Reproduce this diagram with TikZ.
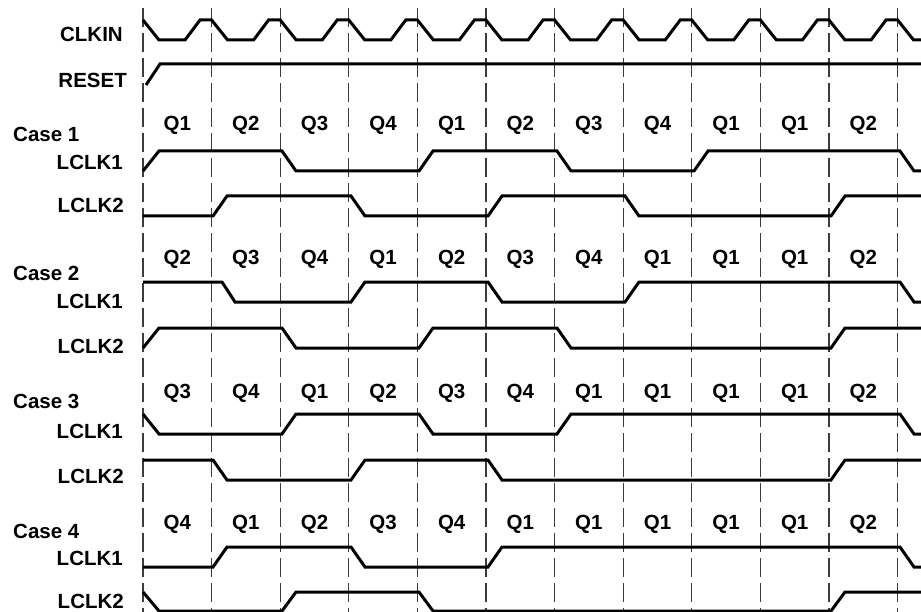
\documentclass[tikz,border=0pt]{standalone}
\usepackage{fontspec}
\setmainfont{Liberation Sans}
\definecolor{slotgray}{HTML}{3C3C3C}

\begin{document}
\begin{tikzpicture}[x=1bp,y=-1bp,
  wave/.style={line width=3bp},
  slot/.style={slotgray,line width=1.1bp,dash pattern=on 19bp off 6bp},
  lbl/.style={font=\fontsize{20.5bp}{24bp}\selectfont\bfseries,inner sep=0pt}]
  \useasboundingbox (0,0) rectangle (921,612);

  % slot boundaries
  \foreach \k in {0,...,11}
    \draw[slot] ({143+68.6*\k},8) -- ({143+68.6*\k},612);

  % clock and reset
  \node[lbl,anchor=base east] (clkin) at (123,42) {CLKIN};
  \node[lbl,anchor=base east] (reset) at (127,88) {RESET};
  \draw[wave] (143,20) foreach \k in {0,...,10} {
      -- ({159+68.6*\k},40) -- ++(26,0) -- ++(15,-20) -- ({211.6+68.6*\k},20) }
    -- ++(16,20) -- (921,40);
  \draw[wave] (146,85) -- (160,64) -- (921,64);

  % Case 1
  \node[lbl,anchor=base west] (case1) at (13,142) {Case 1};
  \foreach \q [count=\i from 0] in {Q1,Q2,Q3,Q4,Q1,Q2,Q3,Q4,Q1,Q1,Q2}
    \node[lbl,anchor=base] (qa\i) at ({177.3+68.6*\i},131) {\q};
  \node[lbl,anchor=base east] (lclkaa) at (123,170) {LCLK1};
  \node[lbl,anchor=base east] (lclkab) at (124,213) {LCLK2};
  \draw[wave] (143,171) -- (159,151) -- (282,151) -- (296,171) -- (419,171) -- (433,151)
    -- (557,151) -- (571,171) -- (694,171) -- (708,151) -- (900,151) -- (914,171) -- (921,171);
  \draw[wave] (143,216) -- (213,216) -- (227,196) -- (351,196) -- (365,216) -- (488,216)
    -- (502,196) -- (625,196) -- (639,216) -- (831,216) -- (845,196) -- (921,196);

  % Case 2
  \node[lbl,anchor=base west] (case2) at (13,280) {Case 2};
  \foreach \q [count=\i from 0] in {Q2,Q3,Q4,Q1,Q2,Q3,Q4,Q1,Q1,Q1,Q2}
    \node[lbl,anchor=base] (qb\i) at ({177.3+68.6*\i},265) {\q};
  \node[lbl,anchor=base east] (lclkba) at (123,308) {LCLK1};
  \node[lbl,anchor=base east] (lclkbb) at (124,353) {LCLK2};
  \draw[wave] (143,282) -- (222,282) -- (235,302) -- (351,302) -- (365,282) -- (488,282)
    -- (502,302) -- (625,302) -- (639,282) -- (900,282) -- (914,302) -- (921,302);
  \draw[wave] (143,348) -- (159,328) -- (282,328) -- (296,348) -- (419,348) -- (433,328)
    -- (557,328) -- (571,348) -- (831,348) -- (845,328) -- (921,328);

  % Case 3
  \node[lbl,anchor=base west] (case3) at (13,408) {Case 3};
  \foreach \q [count=\i from 0] in {Q3,Q4,Q1,Q2,Q3,Q4,Q1,Q1,Q1,Q1,Q2}
    \node[lbl,anchor=base] (qc\i) at ({177.3+68.6*\i},398) {\q};
  \node[lbl,anchor=base east] (lclkca) at (123,438) {LCLK1};
  \node[lbl,anchor=base east] (lclkcb) at (124,483) {LCLK2};
  \draw[wave] (143,414) -- (159,434) -- (282,434) -- (296,414) -- (419,414) -- (433,434)
    -- (557,434) -- (571,414) -- (900,414) -- (914,434) -- (921,434);
  \draw[wave] (143,460) -- (213,460) -- (227,480) -- (351,480) -- (365,460) -- (488,460)
    -- (502,480) -- (831,480) -- (845,460) -- (921,460);

  % Case 4
  \node[lbl,anchor=base west] (case4) at (13,538) {Case 4};
  \foreach \q [count=\i from 0] in {Q4,Q1,Q2,Q3,Q4,Q1,Q1,Q1,Q1,Q1,Q2}
    \node[lbl,anchor=base] (qd\i) at ({177.3+68.6*\i},529) {\q};
  \node[lbl,anchor=base east] (lclkda) at (123,565) {LCLK1};
  \node[lbl,anchor=base east] (lclkdb) at (124,608) {LCLK2};
  \draw[wave] (143,567) -- (213,567) -- (227,547) -- (351,547) -- (365,567) -- (488,567)
    -- (502,547) -- (900,547) -- (914,567) -- (921,567);
  \draw[wave] (143,592) -- (159,611) -- (282,611) -- (296,592) -- (419,592) -- (433,611)
    -- (831,611) -- (845,592) -- (921,592);
\end{tikzpicture}
\end{document}
